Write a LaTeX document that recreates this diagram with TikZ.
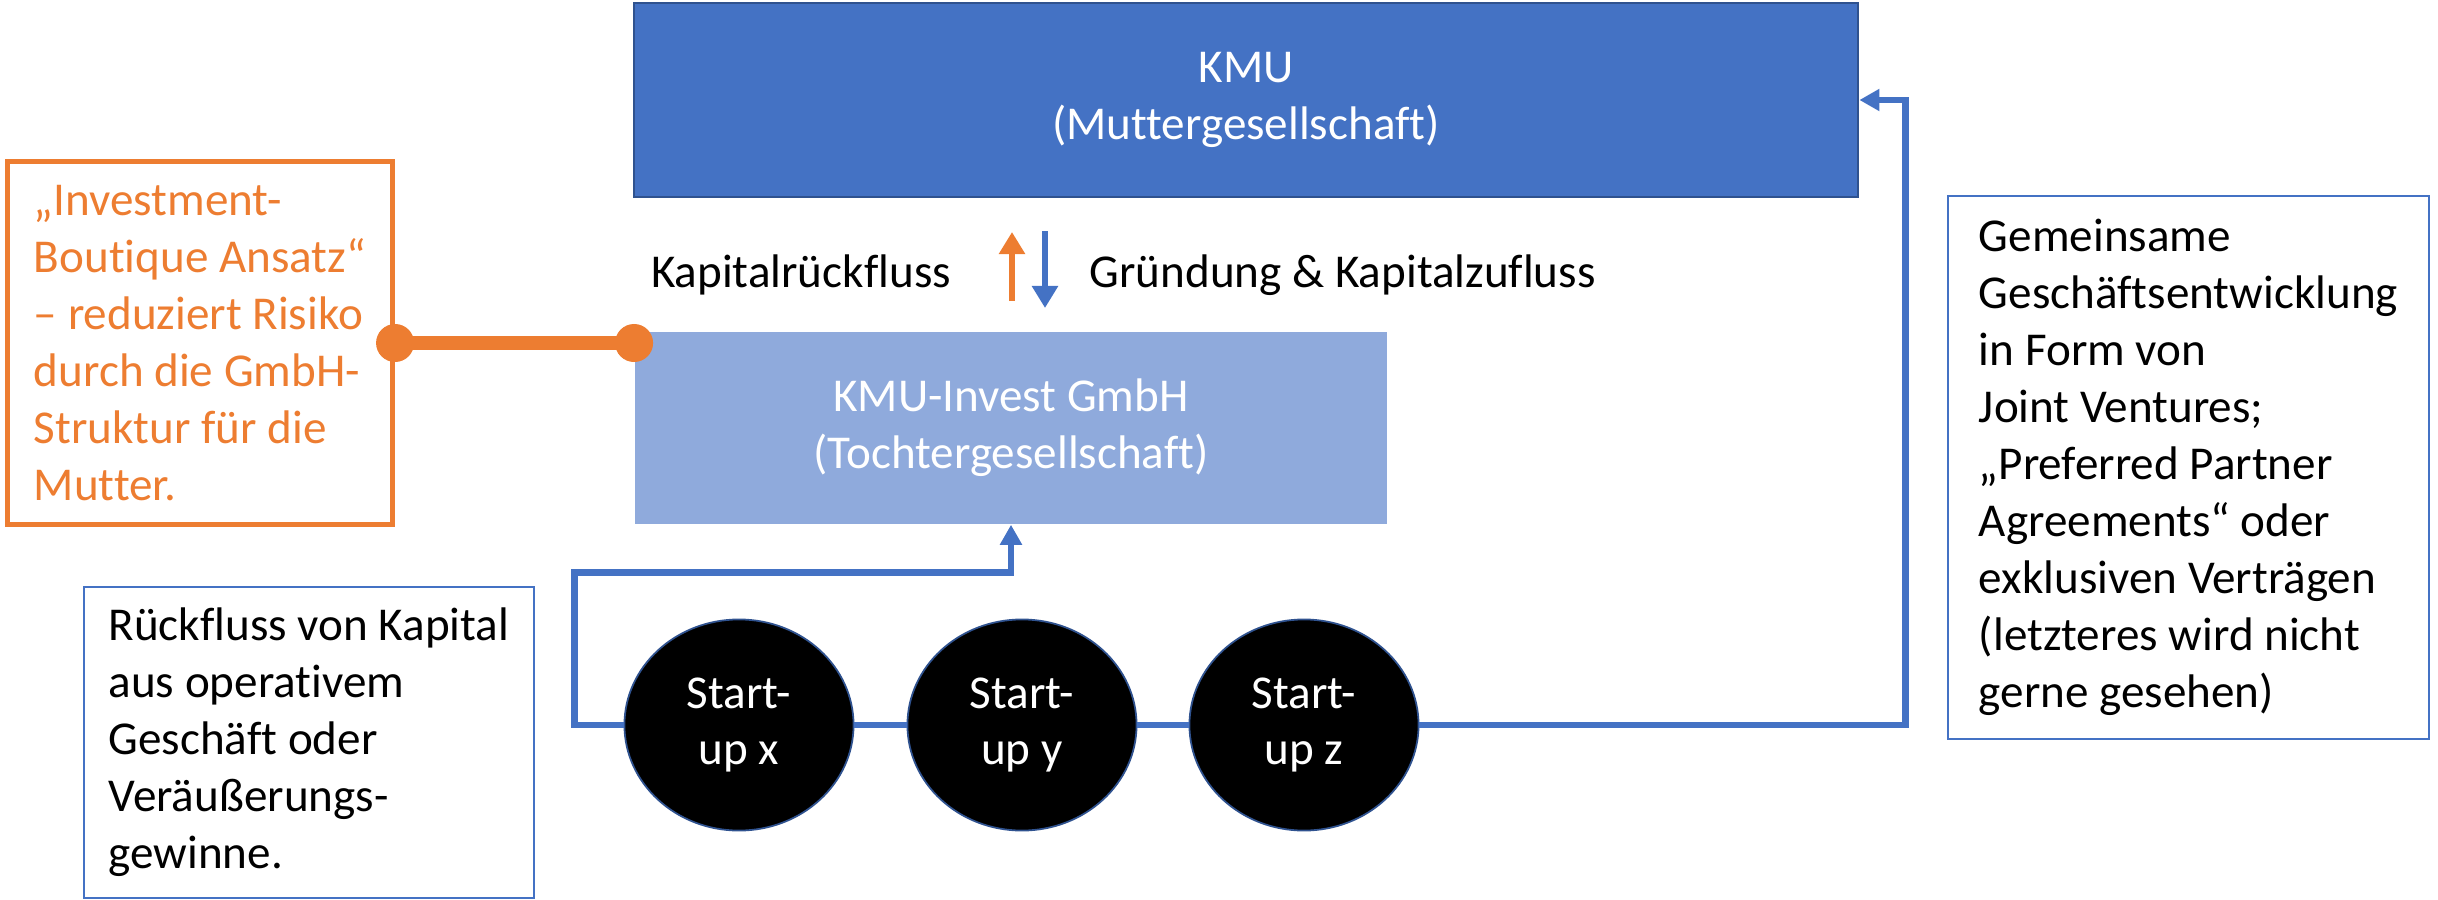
\documentclass[tikz,border=0pt]{standalone}
\usepackage{fontspec}
\setmainfont[Ligatures={NoCommon,TeX}]{Carlito}
\usetikzlibrary{shapes.geometric,arrows.meta}

\definecolor{kmublue}{HTML}{4472C4}
\definecolor{kmuedge}{HTML}{2F528F}
\definecolor{investblue}{HTML}{8FAADC}
\definecolor{boutorange}{HTML}{ED7D31}

\tikzset{
  box/.style={rectangle,text=white,align=center,inner sep=0pt},
  startup/.style={ellipse,fill=black,draw=kmuedge,line width=0.5pt,text=white,
    align=center,minimum width=2.29cm,minimum height=2.11cm,inner sep=0pt},
  txtbox/.style={rectangle,draw=kmublue,line width=0.6pt,align=left,inner sep=0pt},
  flow/.style={draw=kmublue,line width=1.9pt},
  flowtip/.style={-{Triangle[length=0.2cm,width=0.21cm]}},
  smalltip/.style={-{Triangle[length=0.22cm,width=0.25cm]}}
}

\begin{document}
\begin{tikzpicture}[x=0.01cm,y=-0.01cm,
    every node/.style={font=\fontsize{13.4pt}{16.2pt}\selectfont}]
  \useasboundingbox (0,0) rectangle (2438,900);

  %%%%%%%%%%%%%%%%%%%%%%%%%%%%%%%%%%%%%%%%%%%%%%%%%%%%%%%%%%%%%%%%%%%%%%%%%%%
  %%%%  Mutter und Tochter
  \node[box,fill=kmublue,draw=kmuedge,line width=0.6pt,minimum width=12.24cm,
    minimum height=1.94cm] (kmu) at (1246,100) {KMU\\(Muttergesellschaft)};
  \node[box,fill=investblue,minimum width=7.52cm,minimum height=1.92cm]
    (invest) at (1011,428) {KMU-Invest GmbH\\(Tochtergesellschaft)};

  %%%%%%%%%%%%%%%%%%%%%%%%%%%%%%%%%%%%%%%%%%%%%%%%%%%%%%%%%%%%%%%%%%%%%%%%%%%
  %%%%  Kapitalfluss
  \node[anchor=base,inner sep=0pt] (rueck) at (801,287) {Kapitalrückfluss};
  \node[anchor=base west,inner sep=0pt] (gruendung) at (1089,287)
    {Gründung \& Kapitalzufluss};
  \coordinate (rueckA) at (1012,301);
  \coordinate (rueckB) at (1012,232);
  \coordinate (zuA) at (1045,231);
  \coordinate (zuB) at (1045,308);
  \draw[boutorange,line width=1.7pt,smalltip] (rueckA) -- (rueckB);
  \draw[kmublue,line width=1.7pt,smalltip] (zuA) -- (zuB);

  %%%%%%%%%%%%%%%%%%%%%%%%%%%%%%%%%%%%%%%%%%%%%%%%%%%%%%%%%%%%%%%%%%%%%%%%%%%
  %%%%  Start-ups
  \foreach \n/\x in {x/739,y/1022,z/1304}
    {\node[startup] (su\n) at (\x,725) {Start-\\up \n};}

  \draw[flow] (sux.east) -- (suy.west) (suy.east) -- (suz.west);
  \draw[flow,flowtip] (sux.west) -- ++(-0.49cm,0)
    |- ([yshift=-0.48cm]invest.south) -- (invest.south);
  \draw[flow,flowtip] (suz.east) -| ([xshift=0.46cm]kmu.east) -- (kmu.east);

  %%%%%%%%%%%%%%%%%%%%%%%%%%%%%%%%%%%%%%%%%%%%%%%%%%%%%%%%%%%%%%%%%%%%%%%%%%%
  %%%%  Textboxen
  \node[txtbox,draw=boutorange,line width=1.4pt,text=boutorange,
    minimum width=3.85cm,minimum height=3.63cm] (boutique) at (200,343)
    {„Investment-\\Boutique Ansatz“\\– reduziert Risiko\\durch die GmbH-\\%
     Struktur für die\\Mutter.};
  \draw[boutorange,line width=3.7pt] (boutique.east) -- (invest.west |- boutique.east);
  \fill[boutorange] (boutique.east) circle (0.19cm);
  \fill[boutorange] (invest.west |- boutique.east) circle (0.19cm);

  \node[txtbox,minimum width=4.5cm,minimum height=3.11cm] (rueckbox)
    at (309,742.5) {Rückfluss von Kapital\\aus operativem\\Geschäft oder\\%
    Veräußerungs-\\gewinne.};

  \node[txtbox,minimum width=4.81cm,minimum height=5.43cm] (jv) at (2188.5,467.5)
    {Gemeinsame\\Geschäftsentwicklung\\in Form von\\Joint Ventures;\\%
     „Preferred Partner\\Agreements“ oder\\exklusiven Verträgen\\%
     (letzteres wird nicht\\gerne gesehen)};
\end{tikzpicture}
\end{document}
